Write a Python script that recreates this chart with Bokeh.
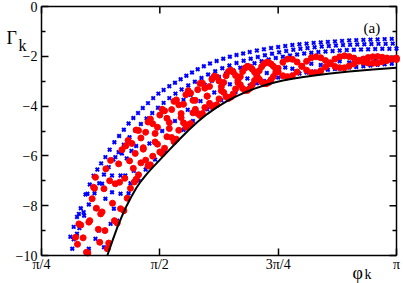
from bokeh.plotting import figure
from bokeh.models import FixedTicker, Label, Range1d
from bokeh.embed import file_html
from bokeh.resources import INLINE

curve_phi = [0.389, 0.395, 0.40, 0.41, 0.42, 0.43, 0.44, 0.45, 0.46, 0.47, 0.48, 0.49, 0.50, 0.52, 0.54,
             0.56, 0.58, 0.60, 0.62, 0.64, 0.66, 0.68, 0.70, 0.72, 0.74, 0.76, 0.78, 0.80, 0.83, 0.86,
             0.90, 0.95, 1.0]
curve_gamma = [-10.0, -9.68, -9.4, -8.88, -8.42, -8.0, -7.63, -7.3, -7.02, -6.78, -6.56, -6.36, -6.16,
               -5.76, -5.36, -4.98, -4.63, -4.32, -4.05, -3.82, -3.62, -3.45, -3.3, -3.17, -3.06, -2.97,
               -2.9, -2.84, -2.76, -2.69, -2.61, -2.53, -2.46]

# red points: scattered part at small phi
red_left_phi = [0.322, 0.326, 0.329, 0.333, 0.338, 0.345, 0.348, 0.350, 0.352, 0.357, 0.360, 0.362, 0.364,
                0.366, 0.370, 0.373, 0.375, 0.378, 0.382, 0.384, 0.386, 0.389, 0.392, 0.394, 0.396, 0.400,
                0.404, 0.406, 0.410, 0.413, 0.415, 0.417, 0.420, 0.424, 0.426, 0.428, 0.431, 0.433, 0.436,
                0.438, 0.441, 0.444, 0.446, 0.448]
red_left_gamma = [-9.27, -9.55, -8.73, -8.78, -9.29, -9.87, -9.9, -8.66, -8.6, -7.72, -7.26, -7.3, -6.86,
                  -8.1, -8.95, -9.47, -8.33, -8.25, -7.32, -9.0, -6.52, -9.73, -9.5, -7.0, -6.18, -7.9,
                  -8.6, -7.12, -8.7, -6.32, -7.06, -8.12, -5.75, -8.2, -6.9, -5.6, -7.7, -5.38, -6.2,
                  -7.3, -5.5, -6.5, -7.05, -5.9]

# red points: two interleaved strands (chain of loops)
red_mid_phi = [0.450, 0.455, 0.460, 0.465, 0.470, 0.475, 0.480, 0.485, 0.490, 0.495, 0.500, 0.505, 0.510,
               0.515, 0.520, 0.525, 0.530, 0.535, 0.540, 0.545, 0.550, 0.555, 0.560, 0.565, 0.570, 0.575,
               0.580, 0.585, 0.590, 0.595]
red_mid_upper = [-4.96, -4.98, -5.28, -5.73, -6.17, -6.41, -6.36, -6.01, -5.44, -4.85, -4.36, -4.13, -4.19,
                 -4.49, -4.90, -5.26, -5.43, -5.33, -4.97, -4.46, -3.93, -3.54, -3.38, -3.48, -3.77, -4.13,
                 -4.30, -4.38, -4.30, -4.06]
red_mid_lower = [-6.94, -6.76, -6.28, -5.67, -5.05, -4.64, -4.52, -4.71, -5.10, -5.53, -5.84, -5.91, -5.69,
                 -5.23, -4.66, -4.14, -3.81, -3.75, -3.95, -4.30, -4.67, -4.85, -4.75, -4.70, -4.27, -3.77,
                 -3.34, -3.09, -3.08, -3.28]

red_a_phi = [0.600, 0.605, 0.610, 0.615, 0.620, 0.625, 0.630, 0.635, 0.640, 0.645, 0.650, 0.655, 0.660,
             0.665, 0.670, 0.675, 0.680, 0.685, 0.690, 0.695, 0.700, 0.705, 0.710, 0.715, 0.720, 0.725,
             0.730, 0.735, 0.740, 0.745]
red_a_upper = [-3.60, -3.21, -2.92, -2.80, -2.83, -2.99, -3.22, -3.45, -3.62, -3.69, -3.64, -3.51, -3.31,
               -3.06, -2.82, -2.61, -2.47, -2.41, -2.43, -2.51, -2.63, -2.78, -2.92, -3.03, -3.10, -3.10,
               -3.05, -2.94, -2.81, -2.64]
red_a_lower = [-3.60, -3.89, -4.02, -4.0, -3.95, -3.71, -3.38, -3.05, -2.78, -2.61, -2.56, -2.63, -2.77,
               -2.96, -3.14, -3.29, -3.37, -3.37, -3.29, -3.15, -2.97, -2.77, -2.58, -2.42, -2.30, -2.25,
               -2.25, -2.31, -2.40, -2.51]

red_b_phi = [0.75, 0.76, 0.77, 0.78, 0.79, 0.80, 0.81, 0.82, 0.83, 0.84, 0.85, 0.86, 0.87, 0.88, 0.89,
             0.90, 0.91, 0.92, 0.93, 0.94, 0.95, 0.96, 0.97, 0.98, 0.99, 1.00]
red_b_upper = [-2.48, -2.24, -2.11, -2.12, -2.23, -2.40, -2.56, -2.66, -2.66, -2.58, -2.43, -2.26, -2.11,
               -2.02, -1.98, -2.01, -2.07, -2.16, -2.23, -2.27, -2.28, -2.27, -2.22, -2.17, -2.11, -2.07]
red_b_lower = [-2.62, -2.78, -2.82, -2.78, -2.63, -2.40, -2.20, -2.06, -2.02, -2.06, -2.17, -2.30, -2.41,
               -2.46, -2.46, -2.39, -2.31, -2.20, -2.11, -2.05, -2.02, -2.01, -2.04, -2.07, -2.11, -2.13]

# blue points: upper rows
blue_r1_phi = [0.311, 0.318, 0.325, 0.333, 0.343, 0.352, 0.360, 0.368, 0.376, 0.385, 0.394, 0.404, 0.414,
               0.424, 0.434, 0.444, 0.454, 0.464, 0.475, 0.486, 0.497, 0.508, 0.520, 0.532, 0.544, 0.556,
               0.568, 0.580, 0.593, 0.606, 0.620, 0.634, 0.648, 0.662, 0.676, 0.690, 0.705, 0.720, 0.735,
               0.750, 0.765, 0.780, 0.795, 0.810, 0.825, 0.840, 0.855, 0.870, 0.885, 0.900, 0.915, 0.930,
               0.945, 0.960, 0.975, 0.990]
blue_r1_gamma = [-9.25, -8.85, -8.45, -8.1, -7.55, -7.15, -6.8, -6.55, -6.3, -6.05, -5.75, -5.45, -5.2,
                 -4.95, -4.7, -4.48, -4.28, -4.08, -3.88, -3.68, -3.5, -3.35, -3.2, -3.06, -2.92, -2.78,
                 -2.65, -2.52, -2.4, -2.29, -2.19, -2.1, -2.02, -1.95, -1.89, -1.83, -1.77, -1.72, -1.67,
                 -1.63, -1.59, -1.55, -1.52, -1.49, -1.46, -1.44, -1.42, -1.40, -1.38, -1.36, -1.35, -1.34,
                 -1.33, -1.32, -1.31, -1.30]
blue_r2_phi = [0.318, 0.330, 0.340, 0.350, 0.362, 0.372, 0.382, 0.392, 0.402, 0.413, 0.424, 0.436, 0.448,
               0.460, 0.472, 0.484, 0.496, 0.508, 0.520, 0.533, 0.546, 0.560, 0.574, 0.588, 0.602, 0.617,
               0.632, 0.647, 0.662, 0.677, 0.692, 0.707, 0.722, 0.737, 0.752, 0.767, 0.782, 0.797, 0.812,
               0.827, 0.842, 0.857, 0.872, 0.887, 0.902, 0.917, 0.932, 0.947, 0.962, 0.977, 0.992]
blue_r2_gamma = [-9.35, -8.9, -8.4, -7.95, -7.5, -7.1, -6.75, -6.45, -6.15, -5.85, -5.55, -5.25, -4.98,
                 -4.72, -4.5, -4.28, -4.07, -3.87, -3.68, -3.5, -3.33, -3.17, -3.02, -2.87, -2.73, -2.6,
                 -2.48, -2.37, -2.27, -2.18, -2.1, -2.03, -1.96, -1.9, -1.84, -1.79, -1.74, -1.7, -1.67,
                 -1.64, -1.61, -1.59, -1.57, -1.55, -1.54, -1.53, -1.52, -1.51, -1.5, -1.5, -1.49]
blue_r3_phi = [0.55, 0.565, 0.58, 0.595, 0.61, 0.625, 0.64, 0.655, 0.67, 0.685, 0.70, 0.715, 0.73, 0.745,
               0.76, 0.775, 0.79, 0.805, 0.82, 0.835, 0.85, 0.865, 0.88, 0.895, 0.91, 0.925, 0.94, 0.955,
               0.97, 0.985, 1.0]
blue_r3_gamma = [-3.75, -3.55, -3.35, -3.15, -2.98, -2.83, -2.69, -2.57, -2.46, -2.36, -2.28, -2.2, -2.13,
                 -2.07, -2.02, -1.97, -1.93, -1.89, -1.86, -1.83, -1.81, -1.79, -1.77, -1.75, -1.74, -1.73,
                 -1.72, -1.71, -1.70, -1.70, -1.69]
# blue points: row just above the black curve
blue_r4_phi = [0.60, 0.615, 0.63, 0.645, 0.66, 0.675, 0.69, 0.705, 0.72, 0.735, 0.75, 0.765, 0.78, 0.795,
               0.81, 0.825, 0.84, 0.855, 0.87, 0.885, 0.90, 0.915, 0.93, 0.945, 0.96, 0.975, 0.99]
blue_r4_gamma = [-4.13, -3.94, -3.77, -3.6, -3.43, -3.29, -3.18, -3.08, -2.99, -2.91, -2.85, -2.79, -2.74,
                 -2.69, -2.65, -2.61, -2.58, -2.54, -2.51, -2.48, -2.45, -2.43, -2.40, -2.37, -2.34, -2.32,
                 -2.30]
# blue points: scattered inside the band
blue_x_phi = [0.315, 0.325, 0.329, 0.339, 0.347, 0.350, 0.364, 0.364, 0.371, 0.378, 0.382, 0.385, 0.396,
              0.399, 0.399, 0.403, 0.406, 0.410, 0.417, 0.417, 0.427, 0.434, 0.438, 0.43, 0.44, 0.445, 0.45,
              0.455, 0.42, 0.47, 0.49, 0.51, 0.53, 0.55, 0.57, 0.59, 0.478, 0.505, 0.532, 0.559, 0.586,
              0.615, 0.648, 0.685, 0.726, 0.765, 0.78, 0.82, 0.84, 0.88, 0.90, 0.955]
blue_x_gamma = [-9.73, -9.13, -8.33, -8.26, -7.52, -9.73, -8.12, -9.33, -9.0, -7.12, -9.67, -7.72, -8.73,
                -7.46, -6.79, -8.12, -6.05, -8.6, -7.52, -6.79, -6.79, -7.5, -7.1, -6.1, -5.8, -6.6, -5.6,
                -7.0, -5.9, -6.55, -6.15, -5.8, -5.35, -4.95, -4.6, -4.28, -5.5, -5.0, -4.6, -4.15, -3.8,
                -3.45, -3.12, -2.89, -2.67, -2.45, -2.5, -2.3, -2.35, -2.2, -2.25, -2.15]

x_ticks = [0.25, 0.5, 0.75, 1.0]
x_tick_labels = ["π/4", "π/2", "3π/4", "π"]
y_ticks = [0, -2, -4, -6, -8, -10]
y_minor_ticks = [-1, -3, -5, -7, -9]

red_phi = red_left_phi + red_mid_phi + red_mid_phi + red_a_phi + red_a_phi + red_b_phi + red_b_phi
red_gamma = (red_left_gamma + red_mid_upper + red_mid_lower + red_a_upper + red_a_lower
             + red_b_upper + red_b_lower)
blue_phi = blue_r1_phi + blue_r2_phi + blue_r3_phi + blue_r4_phi + blue_x_phi
blue_gamma = blue_r1_gamma + blue_r2_gamma + blue_r3_gamma + blue_r4_gamma + blue_x_gamma

FONT = "Liberation Serif"
W, H = 403, 283
# the axes box (pi/4..pi, -10..0) sits at x 41..396, y 6..255 of the canvas
BOX_L, BOX_R, BOX_T, BOX_B = 41, 396, 6, 255
X0, X1, Y0, Y1 = 0.25, 1.0, -10.0, 0.0
px_x = (X1 - X0) / (BOX_R - BOX_L)
px_y = (Y1 - Y0) / (BOX_B - BOX_T)

p = figure(width=W, height=H,
           x_range=Range1d(X0 - BOX_L * px_x, X1 + (W - BOX_R) * px_x),
           y_range=Range1d(Y0 - (H - BOX_B) * px_y, Y1 + BOX_T * px_y),
           output_backend="svg", toolbar_location=None,
           min_border_left=0, min_border_right=0, min_border_top=0, min_border_bottom=0)
p.xgrid.visible = False
p.ygrid.visible = False
p.outline_line_color = None
p.background_fill_color = "white"
p.border_fill_color = "white"

for ax in (p.xaxis[0], p.yaxis[0]):
    ax.axis_line_width = 1.5
    ax.axis_line_color = "black"
    ax.major_tick_line_width = 1.5
    ax.minor_tick_line_width = 1.5
    ax.major_tick_in = 7
    ax.major_tick_out = 0
    ax.minor_tick_in = 4
    ax.minor_tick_out = 0
    ax.major_label_text_font = FONT
    ax.major_label_text_color = "black"
    ax.major_label_text_font_size = "14px"

p.xaxis.fixed_location = Y0
p.xaxis.bounds = (X0, X1)
p.xaxis.ticker = FixedTicker(ticks=x_ticks, minor_ticks=[])
p.xaxis.major_label_overrides = dict(zip(x_ticks, x_tick_labels))
p.xaxis.major_label_standoff = 1
p.yaxis.fixed_location = X0
p.yaxis.bounds = (Y0, Y1)
p.yaxis.ticker = FixedTicker(ticks=y_ticks, minor_ticks=y_minor_ticks)
p.yaxis.major_label_standoff = 4

# top and right sides of the box with mirrored inward ticks
p.line([X0, X1, X1], [Y1, Y1, Y0], line_color="black", line_width=1.5, line_join="miter")
p.segment(x0=x_ticks, y0=[Y1] * len(x_ticks), x1=x_ticks, y1=[Y1 - 7 * px_y] * len(x_ticks),
          line_color="black", line_width=1.5)
p.segment(x0=[X1] * len(y_ticks), y0=y_ticks, x1=[X1 - 7 * px_x] * len(y_ticks), y1=y_ticks,
          line_color="black", line_width=1.5)
p.segment(x0=[X1] * len(y_minor_ticks), y0=y_minor_ticks, x1=[X1 - 4 * px_x] * len(y_minor_ticks),
          y1=y_minor_ticks, line_color="black", line_width=1.5)

p.scatter(blue_phi, blue_gamma, marker="x", size=5, line_width=2, color="#0000ff")
p.scatter(red_phi, red_gamma, marker="circle", size=6, fill_color="#ff0000", line_color="#ff0000")
p.line(curve_phi, curve_gamma, line_width=2, color="black")


def lab(sx, sy, text, size):
    # sx, sy: canvas pixel position (left, alphabetic baseline)
    p.add_layout(Label(x=X0 + (sx - BOX_L) * px_x, y=Y1 - (sy - BOX_T) * px_y, text=text,
                       text_font=FONT, text_font_size=size, text_color="black",
                       text_align="left", text_baseline="alphabetic"))


lab(6, 37, "Γ", "18px")
lab(18, 45, "k", "16px")
lab(352, 272, "φ", "18px")
lab(364, 274, "k", "14px")
lab(363, 27, "(a)", "15px")

open("out.html", "w").write(file_html(p, INLINE))
